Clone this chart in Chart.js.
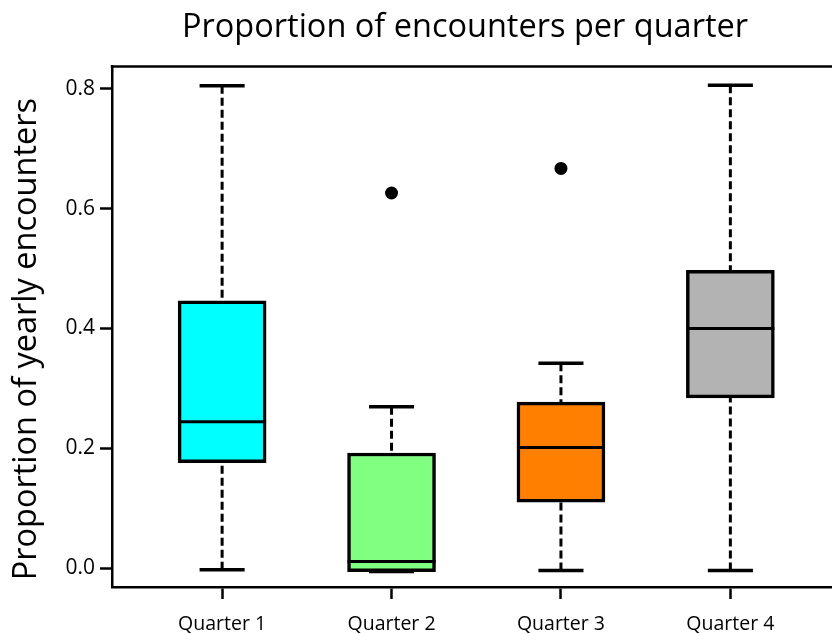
<!DOCTYPE html>
<html>
<head>
<meta charset="utf-8">
<script src="https://cdn.jsdelivr.net/npm/chart.js@4.4.1/dist/chart.umd.min.js"></script>
<style>
  html, body { margin: 0; padding: 0; background: #fff; overflow: hidden; width: 832px; height: 634px; }
  #wrap { position: relative; width: 930px; height: 634px; }
</style>
</head>
<body>
<div id="wrap"><canvas id="c" width="930" height="634"></canvas></div>
<script>
// Five-number summaries per quarter
const quarters    = ['Quarter 1', 'Quarter 2', 'Quarter 3', 'Quarter 4'];
const whiskerLow  = [-0.003, -0.006, -0.004, -0.004];
const boxLow      = [0.176, -0.006, 0.110, 0.284];
const medians     = [0.244, 0.011, 0.201, 0.400];
const boxHigh     = [0.446, 0.192, 0.277, 0.497];
const whiskerHigh = [0.805, 0.269, 0.342, 0.806];

// Outlying points (quarter number, value)
const outlierQuarter = [2, 3];
const outlierValue   = [0.626, 0.667];

const boxColors = ['#00ffff', '#80ff80', '#ff8000', '#b3b3b3'];
const yTicks = [0, 0.2, 0.4, 0.6, 0.8];
const yTitle = 'Proportion of yearly encounters';

const FONT = "'Open Sans', 'Noto Sans', sans-serif";
Chart.defaults.font.family = FONT;
Chart.defaults.color = '#000';

// Whiskers, caps, medians, the top edge of the frame and the y-axis title
const boxWhiskers = {
  id: 'boxWhiskers',
  afterDatasetsDraw(chart) {
    const { ctx, scales: { x, y }, chartArea } = chart;
    const bars = chart.getDatasetMeta(0).data;
    const capHalf = 0.133;
    ctx.save();
    ctx.strokeStyle = '#000';
    quarters.forEach((q, i) => {
      const cx = x.getPixelForValue(i + 1);
      const capL = x.getPixelForValue(i + 1 - capHalf);
      const capR = x.getPixelForValue(i + 1 + capHalf);
      const yWH = y.getPixelForValue(whiskerHigh[i]);
      const yWL = y.getPixelForValue(whiskerLow[i]);
      const yBH = y.getPixelForValue(boxHigh[i]);
      const yBL = y.getPixelForValue(boxLow[i]);

      // dashed whiskers, drawn from the cap toward the box
      ctx.setLineDash([8, 4]);
      ctx.lineWidth = 3;
      if (yBH - yWH > 1) {
        ctx.beginPath(); ctx.moveTo(cx, yWH); ctx.lineTo(cx, yBH); ctx.stroke();
      }
      if (yWL - yBL > 1) {
        ctx.beginPath(); ctx.moveTo(cx, yWL); ctx.lineTo(cx, yBL); ctx.stroke();
      }

      // solid caps
      ctx.setLineDash([]);
      ctx.lineWidth = 3.5;
      ctx.beginPath(); ctx.moveTo(capL, yWH); ctx.lineTo(capR, yWH); ctx.stroke();
      ctx.beginPath(); ctx.moveTo(capL, yWL); ctx.lineTo(capR, yWL); ctx.stroke();

      // median across the box
      const bar = bars[i];
      const ym = y.getPixelForValue(medians[i]);
      ctx.lineWidth = 3;
      ctx.beginPath();
      ctx.moveTo(bar.x - bar.width / 2, ym);
      ctx.lineTo(bar.x + bar.width / 2, ym);
      ctx.stroke();
    });

    // top edge of the frame
    ctx.lineWidth = 2.5;
    ctx.beginPath();
    ctx.moveTo(chartArea.left - 1.25, chartArea.top);
    ctx.lineTo(chartArea.right, chartArea.top);
    ctx.stroke();

    // y-axis title, rotated, sitting a little below the middle of the axis
    ctx.fillStyle = '#000';
    ctx.font = '32.5px ' + FONT;
    ctx.textAlign = 'center';
    ctx.textBaseline = 'middle';
    ctx.translate(27, y.getPixelForValue(0.382));
    ctx.rotate(-Math.PI / 2);
    ctx.fillText(yTitle, 0, 0);
    ctx.restore();
  }
};

new Chart(document.getElementById('c'), {
  type: 'bar',
  data: {
    datasets: [
      {
        type: 'bar',
        data: quarters.map((q, i) => ({ x: i + 1, y: [boxLow[i], boxHigh[i]] })),
        backgroundColor: boxColors,
        borderColor: '#000',
        borderWidth: 3.5,
        borderSkipped: false,
        barThickness: 88
      },
      {
        type: 'scatter',
        data: outlierQuarter.map((q, i) => ({ x: q, y: outlierValue[i] })),
        pointRadius: 6.5,
        pointBackgroundColor: '#000',
        pointBorderWidth: 0
      }
    ]
  },
  options: {
    responsive: false,
    animation: false,
    layout: { padding: 0 },
    plugins: {
      legend: { display: false },
      tooltip: { enabled: false },
      title: {
        display: true,
        text: 'Proportion of encounters per quarter',
        font: { size: 32.5, weight: 'normal' },
        color: '#000',
        padding: { top: 8, bottom: 19.6 }
      }
    },
    scales: {
      x: {
        type: 'linear',
        offset: false,
        min: 0.35,
        max: 5.14,
        afterBuildTicks: (s) => { s.ticks = quarters.map((q, i) => ({ value: i + 1 })); },
        afterFit: (s) => { s.height = 47; },
        ticks: {
          callback: (v) => quarters[v - 1],
          font: { size: 19.5 },
          color: '#000',
          padding: 14,
          maxRotation: 0,
          autoSkip: false
        },
        grid: { offset: false, drawOnChartArea: false, drawTicks: true, tickLength: 12, tickWidth: 2.5, tickColor: '#000' },
        border: { display: true, color: '#000', width: 2.5 }
      },
      y: {
        type: 'linear',
        min: -0.0317,
        max: 0.837,
        afterBuildTicks: (s) => { s.ticks = yTicks.map(v => ({ value: v })); },
        afterFit: (s) => { s.width = 112; },
        ticks: {
          callback: (v) => v.toFixed(1),
          font: { size: 21 },
          color: '#000',
          padding: 5
        },
        grid: { drawOnChartArea: false, drawTicks: true, tickLength: 12, tickWidth: 2.5, tickColor: '#000' },
        border: { display: true, color: '#000', width: 2.5 }
      }
    }
  },
  plugins: [boxWhiskers]
});
</script>
</body>
</html>
